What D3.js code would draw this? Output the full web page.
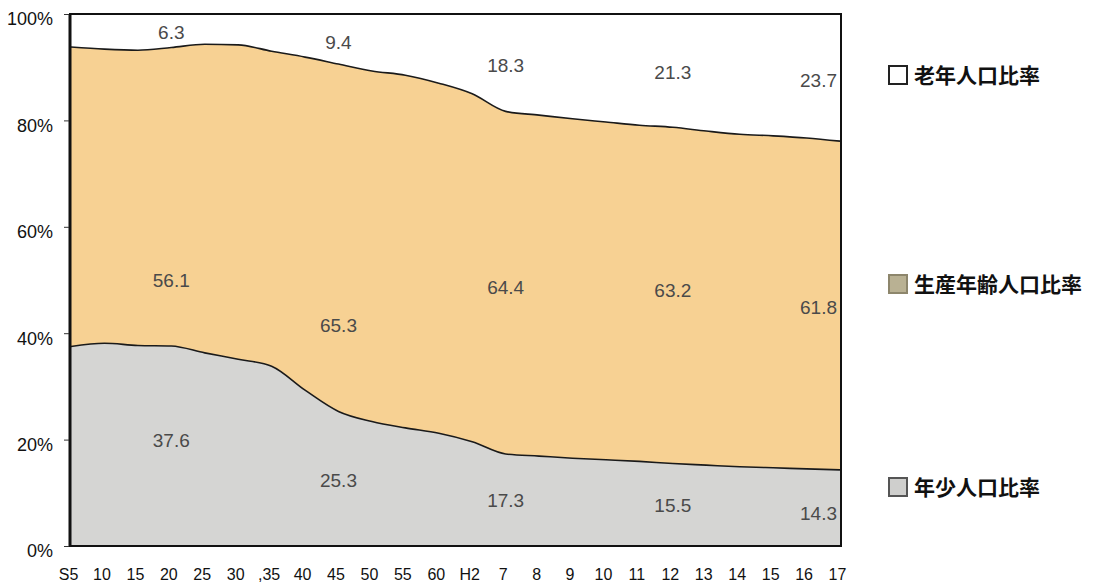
<!DOCTYPE html>
<html>
<head>
<meta charset="utf-8">
<script src="https://cdn.jsdelivr.net/npm/d3@7"></script>
<style>
  body { margin: 0; background: #fff; }
  svg text { font-family: "Liberation Sans", Arial, sans-serif; }
  .legend text { font-family: "Noto Sans CJK JP", sans-serif; }
</style>
</head>
<body>
<svg id="chart" width="1101" height="587"></svg>
<script>
/************************* Data ************************* */
const yearLabels = ["S5", "10", "15", "20", "25", "30", ",35", "40", "45", "50", "55", "60",
  "H2", "7", "8", "9", "10", "11", "12", "13", "14", "15", "16", "17"];
// 年少人口比率 (%)
const youngShare = [37.5, 38.1, 37.7, 37.6, 36.3, 35.1, 33.8, 29.3, 25.3, 23.4, 22.2, 21.2,
  19.6, 17.3, 16.9, 16.5, 16.2, 15.9, 15.5, 15.2, 14.9, 14.7, 14.5, 14.3];
// 生産年齢人口比率 (%)
const workingShare = [56.3, 55.3, 55.5, 56.1, 58.0, 59.1, 59.2, 62.6, 65.3, 65.9, 66.3, 65.8,
  65.4, 64.4, 64.1, 63.8, 63.5, 63.2, 63.2, 62.8, 62.5, 62.4, 62.2, 61.8];
// 老年人口比率 (%)
const elderlyShare = [6.2, 6.6, 6.8, 6.3, 5.7, 5.8, 7.0, 8.1, 9.4, 10.7, 11.5, 13.0,
  15.0, 18.3, 19.0, 19.7, 20.3, 20.9, 21.3, 22.0, 22.6, 22.9, 23.3, 23.7];
const yTicks = [0, 20, 40, 60, 80, 100];
// years that carry value labels (index into yearLabels)
const labelIdx = [3, 8, 13, 18, 23];
// where the labels sit, in % of the y scale (layout only)
const labelYElderly = [96.6, 94.6, 90.4, 89.1, 87.6];
const labelYWorking = [50.0, 41.5, 48.7, 48.1, 44.9];
const labelYYoung = [19.9, 12.4, 8.6, 7.7, 6.2];

const legendItems = ["老年人口比率", "生産年齢人口比率", "年少人口比率"];

/************************* Scales ************************* */
const svg = d3.select("#chart");
const plotLeft = 70, plotRight = 841, plotTop = 14, plotBottom = 546;

const x = d3.scalePoint().domain(d3.range(yearLabels.length)).range([plotLeft + 1, plotRight - 1]);
const y = d3.scaleLinear().domain([0, 100]).range([plotBottom, plotTop]);

const table = yearLabels.map((label, i) => ({
  i, young: youngShare[i], working: workingShare[i], elderly: elderlyShare[i]
}));
const stack = d3.stack().keys(["young", "working", "elderly"]);
const layers = stack(table);
const fills = { young: "#d5d5d3", working: "#f7d193", elderly: "#ffffff" };

const curve = d3.curveMonotoneX;
const area = d3.area()
  .x(d => x(d.data.i))
  .y0(d => y(d[0]))
  .y1(d => y(d[1]))
  .curve(curve);

/************************* Areas ************************* */
svg.append("g").attr("class", "areas")
  .selectAll("path")
  .data(layers)
  .join("path")
  .attr("d", area)
  .attr("fill", d => fills[d.key]);

// boundary lines
const line = d3.line().x(d => x(d.data.i)).y(d => y(d[1])).curve(curve);
svg.append("g").attr("class", "bounds")
  .selectAll("path")
  .data(layers.slice(0, 2))
  .join("path")
  .attr("d", line)
  .attr("fill", "none")
  .attr("stroke", "#1a1a1a")
  .attr("stroke-width", 1.6);

/************************* Frame & axes ************************* */
svg.append("rect")
  .attr("x", plotLeft).attr("y", plotTop)
  .attr("width", plotRight - plotLeft).attr("height", plotBottom - plotTop)
  .attr("fill", "none").attr("stroke", "#111").attr("stroke-width", 2);
svg.append("line")
  .attr("x1", plotLeft).attr("x2", plotLeft).attr("y1", plotTop).attr("y2", plotBottom)
  .attr("stroke", "#111").attr("stroke-width", 3);

const yAxis = d3.axisLeft(y).tickValues(yTicks).tickFormat(d => d + "%")
  .tickSize(5).tickSizeOuter(0).tickPadding(11);
const gy = svg.append("g").attr("transform", `translate(${plotLeft - 1},0)`).call(yAxis);
gy.select(".domain").remove();
gy.selectAll(".tick line").attr("stroke", "#333");
gy.selectAll(".tick text")
  .attr("font-size", 18).attr("fill", "#111")
  .attr("font-family", "Liberation Sans, Arial, sans-serif")
  .attr("dy", "0.6em");

const xAxis = d3.axisBottom(x).tickSize(0).tickPadding(23).tickFormat(i => yearLabels[i]);
const gx = svg.append("g").attr("transform", `translate(-3,${plotBottom})`).call(xAxis);
gx.select(".domain").remove();
gx.selectAll(".tick text")
  .attr("font-size", 16).attr("fill", "#111")
  .attr("font-family", "Liberation Sans, Arial, sans-serif");

/************************* Value labels ************************* */
const lab = svg.append("g").attr("class", "values")
  .attr("font-size", 19).attr("fill", "#4a4a4a");
const addLabels = (values, ys) => {
  lab.append("g").selectAll("text")
    .data(labelIdx)
    .join("text")
    .attr("x", (idx, k) => k === labelIdx.length - 1 ? x(idx) - 3 : x(idx))
    .attr("y", (idx, k) => y(ys[k]))
    .attr("dy", "0.35em")
    .attr("text-anchor", (idx, k) => k === labelIdx.length - 1 ? "end" : "middle")
    .text(idx => values[idx].toFixed(1));
};
addLabels(elderlyShare, labelYElderly);
addLabels(workingShare, labelYWorking);
addLabels(youngShare, labelYYoung);

/************************* Legend ************************* */
const legendY = [75, 284, 487];
const swatch = [
  { fill: "#ffffff", stroke: "#222" },
  { fill: "#b9b193", stroke: "#8d866c" },
  { fill: "#cfcfcd", stroke: "#555" }
];
const legend = svg.append("g").attr("class", "legend");
legend.selectAll("g")
  .data(legendItems)
  .join("g")
  .attr("transform", (d, i) => `translate(889,${legendY[i]})`)
  .each(function (d, i) {
    const g = d3.select(this);
    g.append("rect")
      .attr("x", 0).attr("y", -9).attr("width", 18).attr("height", 18)
      .attr("fill", swatch[i].fill).attr("stroke", swatch[i].stroke).attr("stroke-width", 2);
    g.append("text")
      .attr("x", 25).attr("dy", "0.36em")
      .attr("font-size", 21).attr("font-weight", 600).attr("fill", "#111")
      .text(d);
  });
</script>
</body>
</html>
